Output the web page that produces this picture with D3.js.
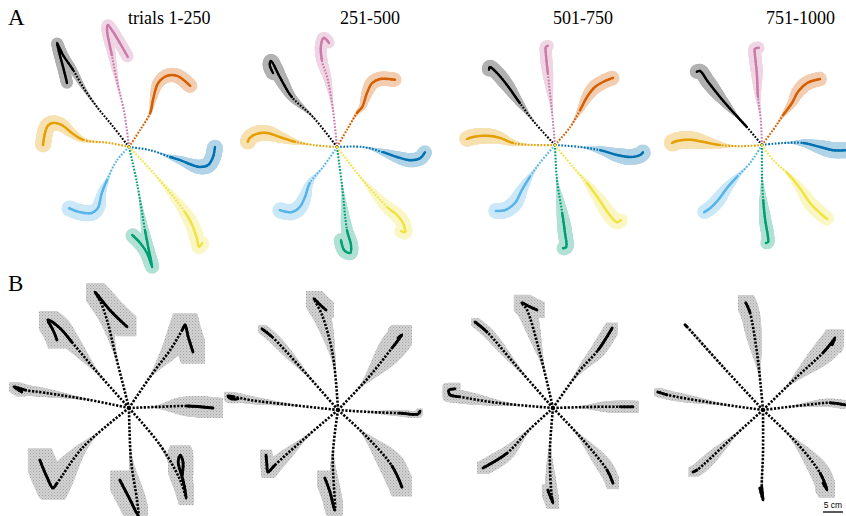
<!DOCTYPE html>
<html>
<head>
<meta charset="utf-8">
<script src="https://cdn.jsdelivr.net/npm/d3@7"></script>
<style>
  body { margin: 0; background: #fff; }
  svg { display: block; }
</style>
</head>
<body>
<div id="chart"></div>
<script>
// reach directions, in the order every path list below uses
const directions = ["E", "NE", "N", "NW", "W", "SW", "S", "SE"];
const blockLabels = ["trials 1-250", "251-500", "501-750", "751-1000"];

// mean hand paths, cm from the start point (y up).
// solid = index where the slow (dense) part of the movement begins, sd = spread in cm
const pathsA1 = [
  {pts: [[0,0],[5.3,-0.8],[10.3,-2.5],[12.8,-3.3],[15.8,-4.5],[17.8,-5],[19.8,-4.5],[21,-2.5],[21.5,0]], solid: 2, sd: 2},
  {pts: [[0,0],[2.8,4.3],[5.3,8.5],[6,11.8],[7.3,16],[9.5,17.8],[12,17.8],[15.3,15.3]], solid: 2, sd: 1.8},
  {pts: [[0,0],[-1.3,9.3],[-2.8,15.5],[-4.3,23],[-5.5,29.3],[-5.3,30.5],[-4,28.8],[-2,25.5],[-0.3,22.5]], solid: 3, sd: 1.5},
  {pts: [[0,0],[-4.3,5.5],[-8,10],[-11.5,15],[-14,19.3],[-16.5,23],[-18,26],[-17.3,23],[-16.3,19.3],[-15.5,16]], solid: 4, sd: 1.5},
  {pts: [[0,0],[-4.8,1],[-11.5,1.8],[-14.3,3.5],[-16.8,5.5],[-19,6],[-20.3,5.3],[-21,3.5],[-21.5,0.5]], solid: 2, sd: 2},
  {pts: [[0,0],[-3,-3.3],[-5.5,-8.3],[-6.8,-11.5],[-7.8,-15.3],[-9.3,-16.5],[-12.3,-16.3],[-15,-15.3]], solid: 2, sd: 2},
  {pts: [[0,0],[2,-9],[4,-20.8],[4.8,-25],[5.8,-30],[4.5,-26.5],[2.8,-24],[0.8,-22]], solid: 2, sd: 1.8},
  {pts: [[0,0],[7,-7.5],[14,-16.3],[15.8,-19.5],[17,-23],[17.5,-25],[18.3,-24]], solid: 2, sd: 1.8}
];
const pathsA2 = [
  {pts: [[0,0],[6.5,0],[11.5,-1.3],[15,-2.5],[18.3,-3.3],[20.8,-2.8],[22,-1.3]], solid: 2, sd: 1.8},
  {pts: [[0,0],[2.5,4.3],[5,8.5],[6.3,10],[7.5,13.5],[8.8,16],[10.8,17],[14.5,16.8]], solid: 2, sd: 1.8},
  {pts: [[0,0],[-1,9.3],[-2.3,16.8],[-3.8,21.8],[-4,25.5],[-3.3,27.3],[-2,26]], solid: 3, sd: 1.5},
  {pts: [[0,0],[-6,7.5],[-11.3,12.5],[-14.3,17.5],[-16.5,21.5],[-16.8,20.5],[-16,18.5]], solid: 2, sd: 1.8},
  {pts: [[0,0],[-6,0.5],[-10.5,1.3],[-14.3,2.5],[-17.5,3.5],[-20,3.3],[-21.8,2.3],[-22.3,1.3]], solid: 2, sd: 2},
  {pts: [[0,0],[-3.5,-5],[-6.8,-9],[-8,-12.5],[-9.3,-15],[-11.3,-16.3],[-14.3,-15.8]], solid: 2, sd: 2},
  {pts: [[0,0],[1.3,-10],[2.5,-20.8],[3.5,-24.5],[3.3,-26.5],[1.8,-25.8],[1,-23.3]], solid: 2, sd: 1.8},
  {pts: [[0,0],[6.5,-8.3],[12.5,-15],[15,-17],[16.5,-19],[17,-21.3],[16,-21]], solid: 2, sd: 1.8}
];
const pathsA3 = [
  {pts: [[0,0],[6.3,-0.5],[11.3,-1.3],[15.5,-2.5],[18.8,-3],[21.3,-2.5],[22,-1.8]], solid: 2, sd: 2},
  {pts: [[0,0],[3.8,4.5],[6.3,8.8],[8,12],[10,14.5],[12.5,16],[14.5,16.8]], solid: 2, sd: 1.8},
  {pts: [[0,0],[-0.8,8.8],[-1.8,18],[-2.3,23],[-2.3,24.5],[-1.8,24.8]], solid: 2, sd: 1.5},
  {pts: [[0,0],[-5,5.5],[-8.8,10.5],[-12,15],[-14.5,18],[-16.3,19.5],[-16.5,18.8]], solid: 2, sd: 1.8},
  {pts: [[0,0],[-5.5,0],[-10.5,0.5],[-13.8,1.8],[-17,2.3],[-20.5,2],[-22,1.5]], solid: 2, sd: 2},
  {pts: [[0,0],[-3.8,-4.5],[-6.3,-8],[-8.3,-11.3],[-10,-14.5],[-12.5,-16.3],[-14.8,-16.5]], solid: 2, sd: 2},
  {pts: [[0,0],[0.5,-8.8],[1.8,-17],[2.5,-22],[2.8,-25.5],[2,-25.8]], solid: 2, sd: 1.8},
  {pts: [[0,0],[4.5,-5.5],[8,-9.5],[10.8,-13.3],[13.3,-17],[15.5,-19.3],[16.5,-18.8]], solid: 2, sd: 1.8}
];
const pathsA4 = [
  {pts: [[0,0],[5.3,0.5],[10.3,0.5],[14.5,-0.5],[17.8,-1.3],[20.8,-1.3]], solid: 2, sd: 2},
  {pts: [[0,0],[2.8,3.8],[5.3,7.5],[7.5,10.5],[9,13.3],[11.3,15.5],[14.5,16.5]], solid: 2, sd: 1.8},
  {pts: [[0,0],[-0.3,6.3],[-1,12],[-1.3,18],[-1.8,23],[-1.8,24],[-0.8,24.3]], solid: 2, sd: 1.6},
  {pts: [[0,0],[-3.8,4.5],[-7.3,8.3],[-10.5,12],[-13.5,15.8],[-15.5,18.5],[-16.3,18.3]], solid: 1, sd: 1.8},
  {pts: [[0,0],[-5.5,-0.3],[-10.5,0],[-14.8,0.8],[-18,1.3],[-21.3,1],[-22.5,0.5]], solid: 2, sd: 2.2},
  {pts: [[0,0],[-3,-4.5],[-6.3,-8],[-8.8,-10.8],[-11,-13.8],[-13,-15.8],[-14.5,-16.8]], solid: 2, sd: 1.8},
  {pts: [[0,0],[0,-8],[0.3,-13.8],[0.8,-18.8],[1.5,-23],[1.5,-24.3],[1,-24.5]], solid: 2, sd: 1.6},
  {pts: [[0,0],[2.8,-3.8],[6.3,-7],[9.5,-10.8],[12,-14.5],[14.5,-17],[16.3,-18.5]], solid: 2, sd: 1.8}
];

const pathsB1 = [
  {pts: [[0,0],[7.8,0.3],[14.5,0.5],[21,0]], solid: 2, sd: 2.5},
  {pts: [[0,0],[6,8.8],[10.3,14.5],[13.3,19.5],[14,20.8],[14.8,17.8],[16,14]], solid: 3, sd: 3},
  {pts: [[0,0],[-3.5,13.8],[-5.5,22],[-7.3,27],[-8.5,29],[-4.8,24.5],[-0.5,20.3]], solid: 3, sd: 2.5},
  {pts: [[0,0],[-8,9],[-14.3,16.5],[-17.3,20],[-20.3,22],[-19,19.5],[-18,17]], solid: 2, sd: 2.2},
  {pts: [[0,0],[-9.8,2],[-21,3.8],[-26,4.5],[-28.8,5.3],[-26.8,4]], solid: 3, sd: 1.2},
  {pts: [[0,0],[-11.5,-9.8],[-18,-18.8],[-19,-20],[-20.5,-17.3],[-22.3,-13]], solid: 2, sd: 3},
  {pts: [[0,0],[0.5,-13],[2,-23],[2.3,-26.8],[0.3,-23],[-2.3,-18]], solid: 3, sd: 2.5},
  {pts: [[0,0],[7.8,-9.3],[12.8,-18],[14.3,-22.5],[13.5,-18],[12.3,-13.5],[12.8,-11.8],[13.5,-13.5],[13.3,-16.8]], solid: 3, sd: 2.5}
];
const pathsB2 = [
  {pts: [[0,0],[8,-0.5],[15.5,-0.8],[20,-1],[20.5,-0.3]], solid: 2, sd: 0.8},
  {pts: [[0,0],[7.5,8],[13.5,15.5],[16,18.8],[15,18]], solid: 2, sd: 2.5},
  {pts: [[0,0],[-1.3,13.8],[-4,23.8],[-6,27.8],[-4.5,26.3],[-3,25]], solid: 3, sd: 2},
  {pts: [[0,0],[-9.5,10.8],[-16.5,18.3],[-19,20.3]], solid: 2, sd: 1},
  {pts: [[0,0],[-12,1.3],[-22,2.5],[-26,3.3],[-27.5,3.5],[-26.8,2.8],[-25,2.8]], solid: 3, sd: 1},
  {pts: [[0,0],[-8.8,-7.5],[-15.8,-13.8],[-17.5,-15.5],[-17.8,-13.3],[-18,-11.3]], solid: 2, sd: 1.5},
  {pts: [[0,0],[-1.3,-11.3],[-0.8,-25],[-2,-20.5],[-3.3,-17]], solid: 2, sd: 2},
  {pts: [[0,0],[7.3,-6.8],[13.5,-14],[16,-19.3]], solid: 2, sd: 2.5}
];
const pathsB3 = [
  {pts: [[0,0],[11,0.3],[16.8,0.3],[20,0.3]], solid: 2, sd: 1.5},
  {pts: [[0,0],[6.8,9.5],[11.3,14.5],[14.8,20]], solid: 2, sd: 1.5},
  {pts: [[0,0],[-3.3,13.8],[-6.5,24.5],[-7.8,26.3],[-5.8,25.3],[-4,24.5]], solid: 3, sd: 2},
  {pts: [[0,0],[-9,10.3],[-16.5,19],[-19.5,21.5]], solid: 2, sd: 1},
  {pts: [[0,0],[-14,1.3],[-23.3,2.8],[-25.8,3.3],[-26,4.5],[-24.5,4.8]], solid: 2, sd: 1.5},
  {pts: [[0,0],[-6,-5.5],[-11.5,-11.3],[-17.5,-15]], solid: 2, sd: 1.5},
  {pts: [[0,0],[-0.8,-11.3],[-0.3,-22.3],[0,-23.8],[-1.3,-20.5]], solid: 2, sd: 1.5},
  {pts: [[0,0],[7.5,-8],[13.5,-15.5],[15,-18.8]], solid: 2, sd: 1.5}
];
const pathsB4 = [
  {pts: [[0,0],[11,1.3],[16.8,1.8],[20.5,1.3]], solid: 2, sd: 1},
  {pts: [[0,0],[8.5,8.3],[15,14.3],[17.5,17.3],[18,18],[17.3,16.3]], solid: 2, sd: 2.2},
  {pts: [[0,0],[-1.5,14.3],[-3.3,24.5],[-4.3,26.8]], solid: 2, sd: 2},
  {pts: [[0,0],[-10,10.8],[-19,20.8],[-19.5,21.3]], solid: 2, sd: 0.3},
  {pts: [[0,0],[-14,2],[-24,3.8],[-26.3,4.5]], solid: 2, sd: 1},
  {pts: [[0,0],[-8.3,-7.5],[-16.5,-15],[-17.5,-15.5]], solid: 2, sd: 1.2},
  {pts: [[0,0],[0,-10.8],[-0.3,-19.3],[0,-22.5],[-0.8,-19.5]], solid: 2, sd: 0.3},
  {pts: [[0,0],[8.5,-8.3],[14.3,-15.8],[16,-20],[15,-18.3]], solid: 2, sd: 2}
];

const scaleBarCm = 5;

// ---- layout ----
const W = 846, H = 516;
const pxPerCm = 4;
const centersA = [[129, 147], [337, 147], [555, 145], [762, 145]];
const centersB = [[129, 408], [338, 410], [553, 408], [763, 410]];

const svg = d3.select("#chart").append("svg")
  .attr("width", W).attr("height", H);

// stippled grey for the photocopied spread in row B
const pat = svg.append("defs").append("pattern")
  .attr("id", "stipple").attr("width", 3).attr("height", 3)
  .attr("patternUnits", "userSpaceOnUse");
pat.append("rect").attr("width", 3).attr("height", 3).attr("fill", "#d2d2d2");
pat.append("rect").attr("width", 1).attr("height", 1).attr("fill", "#a3a3a3");
pat.append("rect").attr("x", 1.5).attr("y", 1.5).attr("width", 1).attr("height", 1).attr("fill", "#b4b4b4");

const colorA = d3.scaleOrdinal()
  .domain(directions)
  .range(["#0072B2", "#D55E00", "#CC79A7", "#000000", "#E69F00", "#56B4E9", "#009E73", "#F0E442"]);

const line = d3.line().curve(d3.curveCatmullRom.alpha(0.5));

function smooth(t, a, b) {
  const u = Math.max(0, Math.min(1, (t - a) / (b - a)));
  return u * u * (3 - 2 * u);
}

function drawPanel(cx, cy, paths, row) {
  const x = d3.scaleLinear().domain([-30, 30]).range([cx - 30 * pxPerCm, cx + 30 * pxPerCm]);
  const y = d3.scaleLinear().domain([-30, 30]).range([cy + 30 * pxPerCm, cy - 30 * pxPerCm]);
  const g = svg.append("g");
  const bandLayer = g.append("g");
  const lineLayer = g.append("g");

  paths.forEach((p, i) => {
    const col = row === "A" ? colorA(directions[i]) : "#000";
    const xy = p.pts.map(d => [x(d[0]), y(d[1])]);
    const dStr = line(xy);

    // dotted (fast) part along the whole path
    const dotted = lineLayer.append("path")
      .attr("d", dStr)
      .attr("fill", "none")
      .attr("stroke", col)
      .attr("stroke-width", row === "A" ? 2.1 : 2.6)
      .attr("stroke-dasharray", row === "A" ? "1.7 1.5" : "2.2 1.5");
    const node = dotted.node();
    const L = node.getTotalLength();

    const tmp = lineLayer.append("path").attr("d", line(xy.slice(0, p.solid + 1)));
    const Ls = tmp.node().getTotalLength();
    tmp.remove();

    // solid (slow) part
    lineLayer.append("path")
      .attr("d", dStr)
      .attr("fill", "none")
      .attr("stroke", col)
      .attr("stroke-width", row === "A" ? 2.4 : 2.8)
      .attr("stroke-linecap", "round")
      .attr("stroke-linejoin", "round")
      .attr("stroke-dasharray", `0 ${Ls} ${L + 1}`);

    // spread band, grows along the movement
    const rMax = x(p.sd) - x(0);
    const samples = d3.range(0, L + 0.01, 0.8).map(l => {
      const q = node.getPointAtLength(l);
      return {x: q.x, y: q.y, r: rMax * smooth(l / L, 0.18, 0.85)};
    }).filter(s => s.r > 0.4);

    if (row === "A") {
      bandLayer.append("g").attr("opacity", 0.3)
        .selectAll("circle").data(samples).join("circle")
        .attr("cx", s => s.x).attr("cy", s => s.y).attr("r", s => s.r)
        .attr("fill", col);
    } else {
      bandLayer.append("g")
        .selectAll("rect").data(samples).join("rect")
        .attr("x", s => s.x - s.r).attr("y", s => s.y - s.r)
        .attr("width", s => 2 * s.r).attr("height", s => 2 * s.r)
        .attr("fill", "url(#stipple)");
    }
  });
  return x;
}

[pathsA1, pathsA2, pathsA3, pathsA4].forEach((paths, k) => drawPanel(centersA[k][0], centersA[k][1], paths, "A"));
let lastX;
[pathsB1, pathsB2, pathsB3, pathsB4].forEach((paths, k) => { lastX = drawPanel(centersB[k][0], centersB[k][1], paths, "B"); });

// titles
const serif = "'Liberation Serif', 'Times New Roman', serif";
const labelX = [128, 340, 553, 766];
svg.selectAll("text.block").data(blockLabels).join("text")
  .attr("class", "block")
  .attr("x", (d, i) => labelX[i]).attr("y", 24)
  .attr("font-family", serif).attr("font-size", 18)
  .text(d => d);

svg.append("text").attr("x", 8).attr("y", 25)
  .attr("font-family", serif).attr("font-size", 23).text("A");
svg.append("text").attr("x", 8).attr("y", 291)
  .attr("font-family", serif).attr("font-size", 23).text("B");

// scale bar
const barLen = lastX(scaleBarCm) - lastX(0);
const barX0 = 843 - barLen;
svg.append("line")
  .attr("x1", barX0).attr("x2", barX0 + barLen)
  .attr("y1", 512).attr("y2", 512)
  .attr("stroke", "#000").attr("stroke-width", 1.3);
svg.append("text")
  .attr("x", barX0 + barLen / 2).attr("y", 508)
  .attr("text-anchor", "middle")
  .attr("font-family", "'Liberation Sans', Arial, sans-serif")
  .attr("font-size", 8.5)
  .text(scaleBarCm + " cm");
</script>
</body>
</html>
